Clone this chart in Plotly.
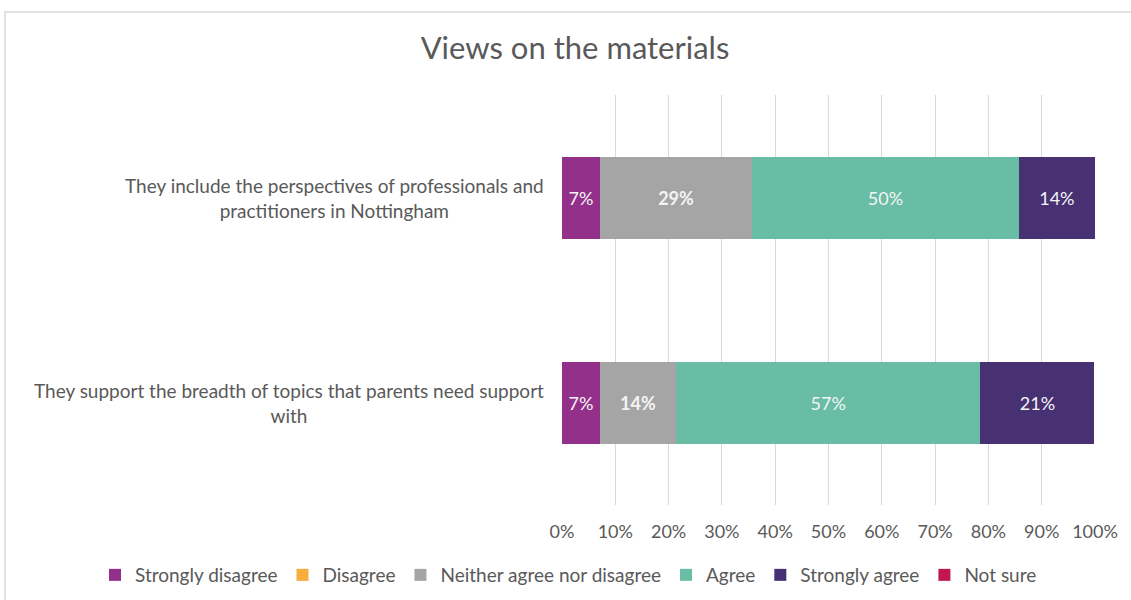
import plotly.graph_objects as go

categories = [
    "They include the perspectives of professionals and<br>practitioners in Nottingham",
    "They support the breadth of topics that parents need support<br>with",
]
series_names = ["Strongly disagree", "Disagree", "Neither agree nor disagree",
                "Agree", "Strongly agree", "Not sure"]
strongly_disagree = [7.1, 7.1]
disagree = [0, 0]
neither = [28.6, 14.3]
agree = [50.0, 57.1]
strongly_agree = [14.3, 21.4]
not_sure = [0, 0]
series_values = [strongly_disagree, disagree, neither, agree, strongly_agree, not_sure]
colors = ["#93308A", "#F9AD3C", "#A5A5A5", "#69BDA5", "#473172", "#C0174F"]
bold_series = {"Neither agree nor disagree"}
tick_vals = [0, 10, 20, 30, 40, 50, 60, 70, 80, 90, 100]
tick_text = [f"{v}%" for v in tick_vals]

FONT = "Lato"
TXT = "#595959"

fig = go.Figure()
cat_ids = ["c0", "c1"]
for name, vals, col in zip(series_names, series_values, colors):
    labels = []
    for v in vals:
        if v > 0:
            s = f"{round(v)}%"
            labels.append(f"<b>{s}</b>" if name in bold_series else s)
        else:
            labels.append("")
    fig.add_trace(go.Bar(
        y=cat_ids, x=vals, name=name, orientation="h",
        marker=dict(color=col, line=dict(width=0)),
        text=labels, textposition="inside", insidetextanchor="middle",
        textfont=dict(color="#F4F4F4", size=18, family=FONT),
        hoverinfo="skip",
    ))

for cid, cat in zip(cat_ids, categories):
    fig.add_annotation(
        x=0, xref="paper", y=cid, yref="y", text=cat, showarrow=False,
        xanchor="right", align="center", xshift=-16,
        font=dict(size=19, color=TXT, family=FONT),
    )

# outer chart frame
fig.add_shape(type="rect", xref="paper", yref="paper",
              x0=(5 - 562) / 533, x1=(1140 - 562) / 533,
              y0=(505 - 610) / 410, y1=(505 - 12) / 410,
              line=dict(color="#D9D9D9", width=1.5), fillcolor="rgba(0,0,0,0)",
              layer="below")

fig.update_layout(
    barmode="stack", bargap=0.6,
    width=1131, height=600,
    margin=dict(l=562, r=36, t=95, b=95, autoexpand=False),
    paper_bgcolor="white", plot_bgcolor="white",
    title=dict(text="Views on the materials", x=575 / 1131, xref="container", xanchor="center",
               y=1 - 48 / 600, yref="container", yanchor="middle",
               font=dict(size=31, color=TXT, family=FONT)),
    xaxis=dict(range=[0, 100], tickvals=tick_vals, ticktext=tick_text,
               showgrid=True, gridcolor="#D9D9D9", gridwidth=1,
               zeroline=False, showline=False, ticks="", ticklabelstandoff=14,
               tickfont=dict(size=18, color=TXT, family=FONT)),
    yaxis=dict(autorange="reversed", showticklabels=False, showgrid=False,
               zeroline=False, showline=False, ticks=""),
    legend=dict(orientation="h", xref="paper", x=(95 - 562) / 533, xanchor="left",
                yref="paper", y=-(575 - 505) / 410, yanchor="middle",
                font=dict(size=19, color=TXT, family=FONT),
                itemwidth=30, traceorder="normal"),
    showlegend=True,
)

fig.write_html("out.html")
